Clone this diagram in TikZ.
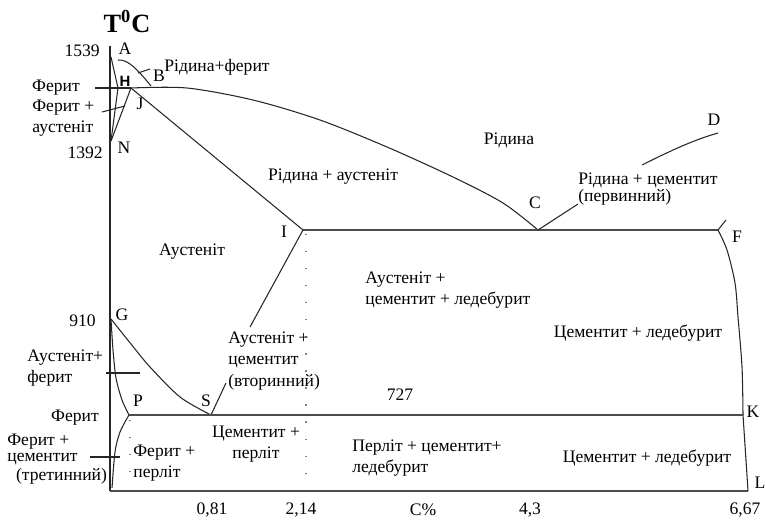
\documentclass[tikz,border=0pt]{standalone}
\usepackage{fontspec}
\setmainfont{Liberation Serif}
\newfontfamily\hfont{Liberation Sans}

\tikzset{
    lbl/.style={inner sep=0pt, font=\fontsize{10}{12}\selectfont},
    border/.style={line width=0.6pt, color=black!85},
    iso/.style={line width=0.9pt, color=black!70},
    dots/.style={color=black!50, line width=0.7pt, dash pattern=on 0.7pt off 9pt},
}

\begin{document}
\begin{tikzpicture}[x=0.02cm, y=-0.02cm]

    \useasboundingbox (0, 0) rectangle (766, 521);

    \coordinate (O) at (110, 491);
    \coordinate (A) at (111, 57);
    \coordinate (H) at (118, 88);
    \coordinate (J) at (131, 88);
    \coordinate (N) at (111, 141);
    \coordinate (B) at (151, 86);
    \coordinate (E) at (303, 230);
    \coordinate (C) at (538, 230);
    \coordinate (F) at (718, 230);
    \coordinate (D) at (718, 133);
    \coordinate (G) at (111, 319);
    \coordinate (P) at (129, 415);
    \coordinate (S) at (211, 415);
    \coordinate (K) at (743, 415);
    \coordinate (L) at (748, 491);

    \draw[border] (110, 46) -- (O);
    \draw[iso] (O) -- (L);

    \draw[border] (A) -- (H);
    \draw[border] (H) -- (N);
    \draw[border] (J) -- (N);
    \draw[border] (95, 88) -- (J);
    \draw[border] (118, 60) .. controls (128, 59) and (138, 70) .. (B);
    \draw[border] (138, 73) -- (150, 69);
    \draw[border] (102, 112) -- (125, 106);
    \draw[border] plot[smooth] coordinates {(J) (187, 88) (253, 100) (320, 120) (387, 147) (453, 177) (503, 203) (C)};

    \draw[border] (J) -- (E);
    \draw[iso] (E) -- (F);
    \draw[border] (C) -- (578, 204);
    \draw[border] (642, 165) .. controls (668, 152) and (693, 140) .. (D);
    \draw[border] (F) -- (726, 220);
    \draw[border] plot[smooth] coordinates {(F) (727, 250) (735, 283) (738, 317) (742, 367) (K)};
    \draw[border] (K) -- (L);

    \draw[border] (S) -- (226, 383);
    \draw[border] (250, 327) -- (E);

    \draw[border] plot[smooth] coordinates {(G) (131, 344) (150, 367) (180, 397) (S)};
    \draw[border] plot[smooth] coordinates {(G) (113, 350) (116, 378) (122, 400) (P)};
    \draw[border] plot[smooth] coordinates {(P) (120, 432) (115, 452) (112, 488)};
    \draw[iso] (P) -- (K);
    \draw[border] (106, 373) -- (140, 373);
    \draw[border] (90, 457) -- (120, 457);

    \draw[dots] (306, 234) -- (306, 488);
    \draw[dots] (130, 420) -- (130, 488);

    \node[lbl, font=\fontsize{15}{18}\selectfont\bfseries, anchor=base] (tc) at (127, 32) {T\textsuperscript{0}C};
    \node[lbl, anchor=east] (t1539) at (100, 51) {1539};
    \node[lbl, anchor=east] (t1392) at (103, 153) {1392};
    \node[lbl, anchor=east] (t910) at (96, 321) {910};
    \node[lbl] (t727) at (400, 395) {727};

    \node[lbl] (lA) at (125, 49) {A};
    \node[lbl] (lB) at (159, 76) {B};
    \node[lbl, font=\hfont\bfseries\fontsize{8.5}{10}\selectfont] (lH) at (125, 81) {H};
    \node[lbl] (lJ) at (140, 104) {J};
    \node[lbl] (lN) at (124, 148) {N};
    \node[lbl] (lC) at (535, 203) {C};
    \node[lbl] (lD) at (714, 120) {D};
    \node[lbl] (lE) at (284, 232) {I};
    \node[lbl] (lF) at (737, 237) {F};
    \node[lbl] (lG) at (122, 315) {G};
    \node[lbl] (lP) at (138, 401) {P};
    \node[lbl] (lS) at (206, 401) {S};
    \node[lbl] (lK) at (753, 412) {K};
    \node[lbl] (lL) at (760, 483) {L};

    \node[lbl] (lliqfer) at (217, 67) {Рідина+ферит};
    \node[lbl] (lfer1) at (56, 88) {Ферит};
    \node[lbl, align=left, anchor=west] (lferaus) at (32, 118) {Ферит +\\аустеніт};
    \node[lbl] (lliq) at (509, 140) {Рідина};
    \node[lbl] (lliqaus) at (333, 177) {Рідина + аустеніт};
    \node[lbl, align=left, anchor=west] (lliqcem) at (578, 189) {Рідина + цементит\\[-2pt](первинний)};
    \node[lbl] (laus) at (192, 252) {Аустеніт};
    \node[lbl, align=left, anchor=west] (lauscemled) at (365, 290) {Аустеніт +\\цементит + ледебурит};
    \node[lbl] (lcemled1) at (638, 333) {Цементит + ледебурит};
    \node[lbl, align=left, anchor=west] (lausfer) at (27, 368) {Аустеніт+\\ферит};
    \node[lbl, align=left, anchor=west] (lauscem) at (228, 361) {Аустеніт +\\цементит\\(вторинний)};
    \node[lbl] (lfer2) at (75, 418) {Ферит};
    \node[lbl, align=left, anchor=west] (lfercem) at (7, 459) {Ферит +\\[-3pt]цементит\\[-1pt]\hspace*{5pt}(третинний)};
    \node[lbl, align=left, anchor=west] (lferper) at (133, 463) {Ферит +\\перліт};
    \node[lbl, align=center] (lcemper) at (256, 444) {Цементит +\\перліт};
    \node[lbl, align=left, anchor=west] (lpercemled) at (352, 458) {Перліт + цементит+\\ледебурит};
    \node[lbl] (lcemled2) at (647, 458) {Цементит + ледебурит};

    \node[lbl] (x081) at (212, 510) {0,81};
    \node[lbl] (x214) at (301, 510) {2,14};
    \node[lbl] (xC) at (423, 510) {C\%};
    \node[lbl] (x43) at (530, 510) {4,3};
    \node[lbl] (x667) at (745, 510) {6,67};

\end{tikzpicture}
\end{document}
